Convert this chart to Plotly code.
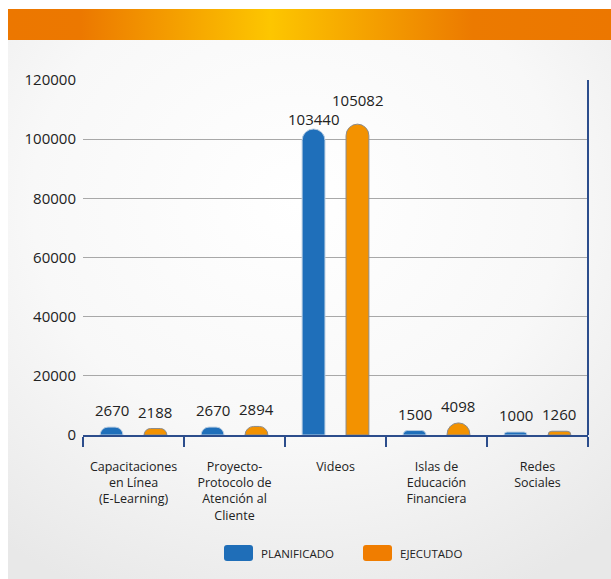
import base64
import plotly.graph_objects as go

# Data
categories = [
    "Capacitaciones<br>en Línea<br>(E-Learning)",
    "Proyecto-<br>Protocolo de<br>Atención al<br>Cliente",
    "Videos",
    "Islas de<br>Educación<br>Financiera",
    "Redes<br>Sociales",
]
series_names = ["PLANIFICADO", "EJECUTADO"]
planificado = [2670, 2670, 103440, 1500, 1000]
ejecutado = [2188, 2894, 105082, 4098, 1260]
y_ticks = [0, 20000, 40000, 60000, 80000, 100000, 120000]

BLUE = "#1f6fba"
ORANGE = "#f39200"
AXIS = "#2c4d8c"
FONT = "Open Sans"
LABEL_SIZE = 15
Y_MAX = 120000
BARGAP = 0.13

W, H = 611, 579
ML, MR, MT, MB = 83, 23, 80, 144
PW, PH = W - ML - MR, H - MT - MB


def px_x(x):
    return (x - ML) / PW


def px_y(y):
    return (H - MB - y) / PH


# Background panel: orange banner + soft grey radial wash
svg = f"""<svg xmlns='http://www.w3.org/2000/svg' width='603' height='570' viewBox='0 0 603 570'>
<defs>
<linearGradient id='b' x1='0' y1='0' x2='1' y2='0'>
<stop offset='0' stop-color='#ec7700'/>
<stop offset='0.12' stop-color='#ec7800'/>
<stop offset='0.435' stop-color='#fdc600'/>
<stop offset='0.77' stop-color='#ec7a00'/>
<stop offset='1' stop-color='#ec7700'/>
</linearGradient>
<radialGradient id='g' cx='0.48' cy='0.3' r='0.8'>
<stop offset='0' stop-color='#ffffff'/>
<stop offset='0.55' stop-color='#f8f8f8'/>
<stop offset='1' stop-color='#e8e8e8'/>
</radialGradient>
</defs>
<rect x='0' y='31' width='603' height='539' fill='url(#g)'/>
<rect x='0' y='0' width='603' height='31' fill='url(#b)'/>
</svg>"""
bg_src = "data:image/svg+xml;base64," + base64.b64encode(svg.encode()).decode()

fig = go.Figure()
series_values = [planificado, ejecutado]
colors = [BLUE, ORANGE]
outlines = ["#b9cde2", "#8c8c8c"]
for name, vals, col, ol in zip(series_names, series_values, colors, outlines):
    fig.add_trace(go.Bar(
        name=name,
        x=categories,
        y=vals,
        marker=dict(color=col, line=dict(color=ol, width=1), cornerradius="50%"),
        showlegend=False,
    ))

# Value labels above each bar; a pair whose labels would collide is spread apart
cat_w = PW / len(categories)
group_w = cat_w * (1 - BARGAP)
x_offsets = [-group_w / 4, group_w / 4]
GAP = 17      # label centre above bar top, px
SEP = 19      # minimum vertical spacing of a colliding pair, px


def label_width(v):
    return len(str(v)) * 0.572 * LABEL_SIZE


annotations = []
for i, cat in enumerate(categories):
    vals = [series_values[s][i] for s in range(2)]
    tops = [v / Y_MAX * PH for v in vals]
    centers = [t + GAP for t in tops]
    overlaps_x = (label_width(vals[0]) + label_width(vals[1])) / 2 > (x_offsets[1] - x_offsets[0])
    if overlaps_x and abs(centers[0] - centers[1]) < SEP:
        mid = (centers[0] + centers[1]) / 2
        lo, hi = (0, 1) if centers[0] <= centers[1] else (1, 0)
        centers[lo] = mid - SEP / 2
        centers[hi] = mid + SEP / 2
    for s in range(2):
        annotations.append(dict(
            xref="x", yref="y", x=cat, y=vals[s],
            xshift=x_offsets[s], yshift=centers[s] - tops[s],
            xanchor="center", yanchor="middle", showarrow=False,
            text=str(vals[s]), borderpad=0,
            font=dict(family=FONT, size=LABEL_SIZE, color="#222222"),
        ))

# Right-hand frame line
shapes = [dict(type="line", xref="paper", yref="paper", x0=1, x1=1, y0=0, y1=1,
               line=dict(color=AXIS, width=2), layer="above")]

# Legend built from rounded swatches
legend_colors = ["#1f6eb8", "#f07d00"]
legend_x = [224, 363]
for name, col, lx in zip(series_names, legend_colors, legend_x):
    w, h, r = 29, 16, 3
    path = (f"M{r},0 H{w - r} Q{w},0 {w},{r} V{h - r} Q{w},{h} {w - r},{h} "
            f"H{r} Q0,{h} 0,{h - r} V{r} Q0,0 {r},0 Z")
    shapes.append(dict(type="path", xref="paper", yref="paper",
                       xsizemode="pixel", ysizemode="pixel",
                       xanchor=px_x(lx), yanchor=px_y(561),
                       path=path, fillcolor=col, line=dict(width=0)))
    annotations.append(dict(xref="paper", yref="paper", x=px_x(lx + 35), y=px_y(553),
                            xanchor="left", yanchor="middle", showarrow=False,
                            text=name, font=dict(family=FONT, size=11.5, color="#222222")))

fig.update_layout(
    width=W, height=H,
    margin=dict(l=ML, r=MR, t=MT, b=MB),
    paper_bgcolor="white",
    plot_bgcolor="rgba(0,0,0,0)",
    barmode="group",
    bargap=BARGAP,
    bargroupgap=0.48,
    font=dict(family=FONT, color="#222222"),
    shapes=shapes,
    annotations=annotations,
    images=[dict(source=bg_src, xref="paper", yref="paper",
                 x=px_x(8), y=px_y(9), sizex=(W - 8) / PW, sizey=(H - 9) / PH,
                 xanchor="left", yanchor="top", sizing="stretch", layer="below")],
    xaxis=dict(
        showline=True, linecolor=AXIS, linewidth=1.5,
        ticks="outside", tickson="boundaries", ticklen=10, tickwidth=1.5, tickcolor=AXIS,
        tickfont=dict(family=FONT, size=12.5, color="#222222"),
        ticklabelstandoff=19,
        showgrid=False, layer="below traces",
    ),
    yaxis=dict(
        range=[0, Y_MAX], tickvals=y_ticks, ticktext=[str(v) for v in y_ticks],
        showgrid=True, gridcolor="#a8a8a8", gridwidth=1,
        zeroline=False, showline=False, ticks="",
        tickfont=dict(family=FONT, size=15, color="#222222"),
        ticklabelstandoff=6,
    ),
)

fig.write_html("out.html")
